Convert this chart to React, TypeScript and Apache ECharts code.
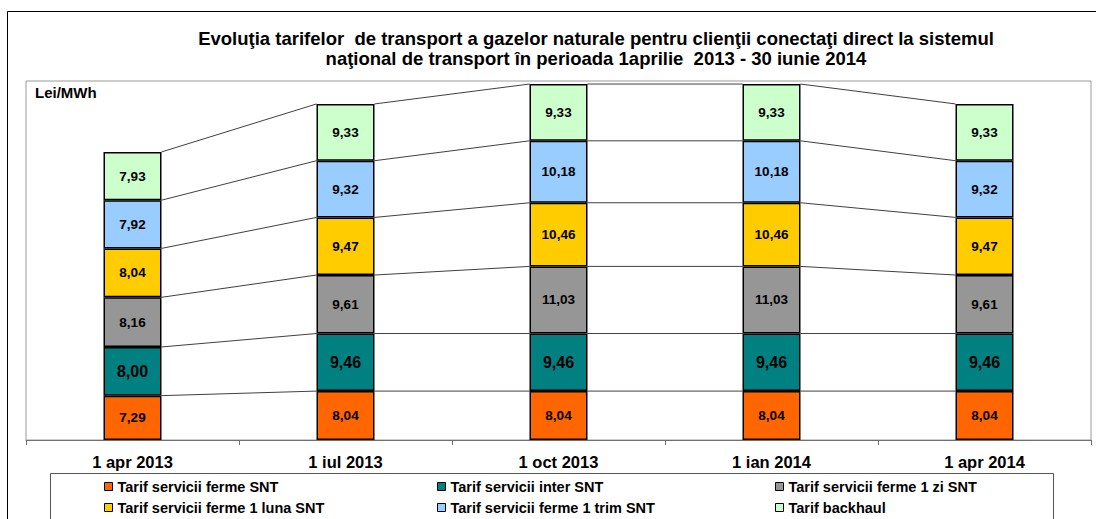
import React, { useEffect, useRef } from "react";
import * as echarts from "echarts";

const categories = ["1 apr 2013", "1 iul 2013", "1 oct 2013", "1 ian 2014", "1 apr 2014"];
const fermeSNT = [7.29, 8.04, 8.04, 8.04, 8.04];
const interSNT = [8.0, 9.46, 9.46, 9.46, 9.46];
const ziSNT = [8.16, 9.61, 11.03, 11.03, 9.61];
const lunaSNT = [8.04, 9.47, 10.46, 10.46, 9.47];
const trimSNT = [7.92, 9.32, 10.18, 10.18, 9.32];
const backhaul = [7.93, 9.33, 9.33, 9.33, 9.33];

const seriesNames = [
  "Tarif servicii ferme SNT",
  "Tarif servicii inter SNT",
  "Tarif servicii ferme 1 zi SNT",
  "Tarif servicii ferme 1 luna SNT",
  "Tarif servicii ferme 1 trim SNT",
  "Tarif backhaul",
];
const seriesData = [fermeSNT, interSNT, ziSNT, lunaSNT, trimSNT, backhaul];
const colors = ["#FF6600", "#008080", "#969696", "#FFCC00", "#99CCFF", "#CCFFCC"];

const FONT = "'Liberation Sans', Arial, sans-serif";
const BAR_W = 58;

export default function App() {
  const ref = useRef<HTMLDivElement>(null);
  useEffect(() => {
    if (!ref.current) return;
    const chart = echarts.init(ref.current, null, { renderer: "svg" });

    const cum: number[][] = [];
    for (let k = 0; k < seriesData.length; k++) {
      cum.push(categories.map((_, i) => {
        let s = 0;
        for (let j = 0; j <= k; j++) s += seriesData[j][i];
        return s;
      }));
    }
    const connectors: number[][] = [];
    for (let i = 0; i < categories.length - 1; i++) {
      for (let k = 0; k < cum.length; k++) {
        connectors.push([i, cum[k][i], cum[k][i + 1]]);
      }
    }

    const bars = seriesData.map((d, idx) => ({
      name: seriesNames[idx],
      type: "bar",
      stack: "total",
      barWidth: BAR_W,
      data: d,
      itemStyle: { color: colors[idx], borderColor: "#000", borderWidth: 1.5 },
      label: {
        show: true,
        position: "inside",
        color: "#000",
        fontFamily: FONT,
        fontWeight: "bold",
        fontSize: idx === 1 ? 16 : 13.5,
        formatter: (p: any) => p.value.toFixed(2).replace(".", ","),
      },
      emphasis: { disabled: true },
      z: 3,
    }));

    const legendPos = [
      [104, 479], [437, 479], [775, 479],
      [104, 500], [437, 500], [775, 500],
    ];

    const option: any = {
      animation: false,
      backgroundColor: "#fff",
      title: {
        text: "Evoluţia tarifelor  de transport a gazelor naturale pentru clienţii conectaţi direct la sistemul\nnaţional de transport în perioada 1aprilie  2013 - 30 iunie 2014",
        left: 591,
        textAlign: "center",
        top: 23,
        textStyle: { fontFamily: FONT, fontWeight: "bold", fontSize: 18.5, lineHeight: 20, color: "#000" },
      },
      grid: { left: 26, top: 81, width: 1065, height: 359, show: true, borderColor: "#9a9a9a", borderWidth: 1, containLabel: false },
      xAxis: {
        type: "category",
        data: categories,
        axisLine: { lineStyle: { color: "#707070", width: 1 } },
        axisTick: { show: true, length: 5, lineStyle: { color: "#707070" } },
        axisLabel: { color: "#000", fontFamily: FONT, fontWeight: "bold", fontSize: 16.5, margin: 13 },
      },
      yAxis: { type: "value", min: 0, max: 59, show: false, splitLine: { show: false } },
      legend: seriesNames.map((n, idx) => ({
        left: legendPos[idx][0],
        top: legendPos[idx][1],
        padding: 0,
        itemWidth: 8,
        itemHeight: 8,
        icon: "rect",
        data: [n],
        selectedMode: false,
        itemStyle: { borderColor: "#000", borderWidth: 1 },
        textStyle: { fontFamily: FONT, fontWeight: "bold", fontSize: 14.5, color: "#000" },
        itemTextGap: 4,
      })),
      graphic: [
        { type: "rect", shape: { x: 7.5, y: 11.5, width: 1100, height: 520 }, style: { fill: "none", stroke: "#000", lineWidth: 1 }, z: -1 },
        { type: "rect", shape: { x: 50.5, y: 473.5, width: 1003, height: 60 }, style: { fill: "none", stroke: "#555", lineWidth: 1 }, z: -1 },
        { type: "text", left: 35, top: 85, style: { text: "Lei/MWh", fontFamily: FONT, fontWeight: "bold", fontSize: 15, fill: "#000" } },
      ],
      series: [
        ...bars,
        {
          type: "custom",
          name: "connectors",
          data: connectors,
          z: 1,
          silent: true,
          encode: { x: 0, y: 1 },
          renderItem: (params: any, api: any) => {
            const i = api.value(0);
            const p1 = api.coord([i, api.value(1)]);
            const p2 = api.coord([i + 1, api.value(2)]);
            return {
              type: "line",
              shape: { x1: p1[0] + BAR_W / 2, y1: p1[1], x2: p2[0] - BAR_W / 2, y2: p2[1] },
              style: { stroke: "#404040", lineWidth: 1 },
            };
          },
        },
      ],
    };
    chart.setOption(option);
    return () => chart.dispose();
  }, []);
  return <div ref={ref} style={{ position: "absolute", left: 0, top: 0, width: 1096, height: 519 }} />;
}
